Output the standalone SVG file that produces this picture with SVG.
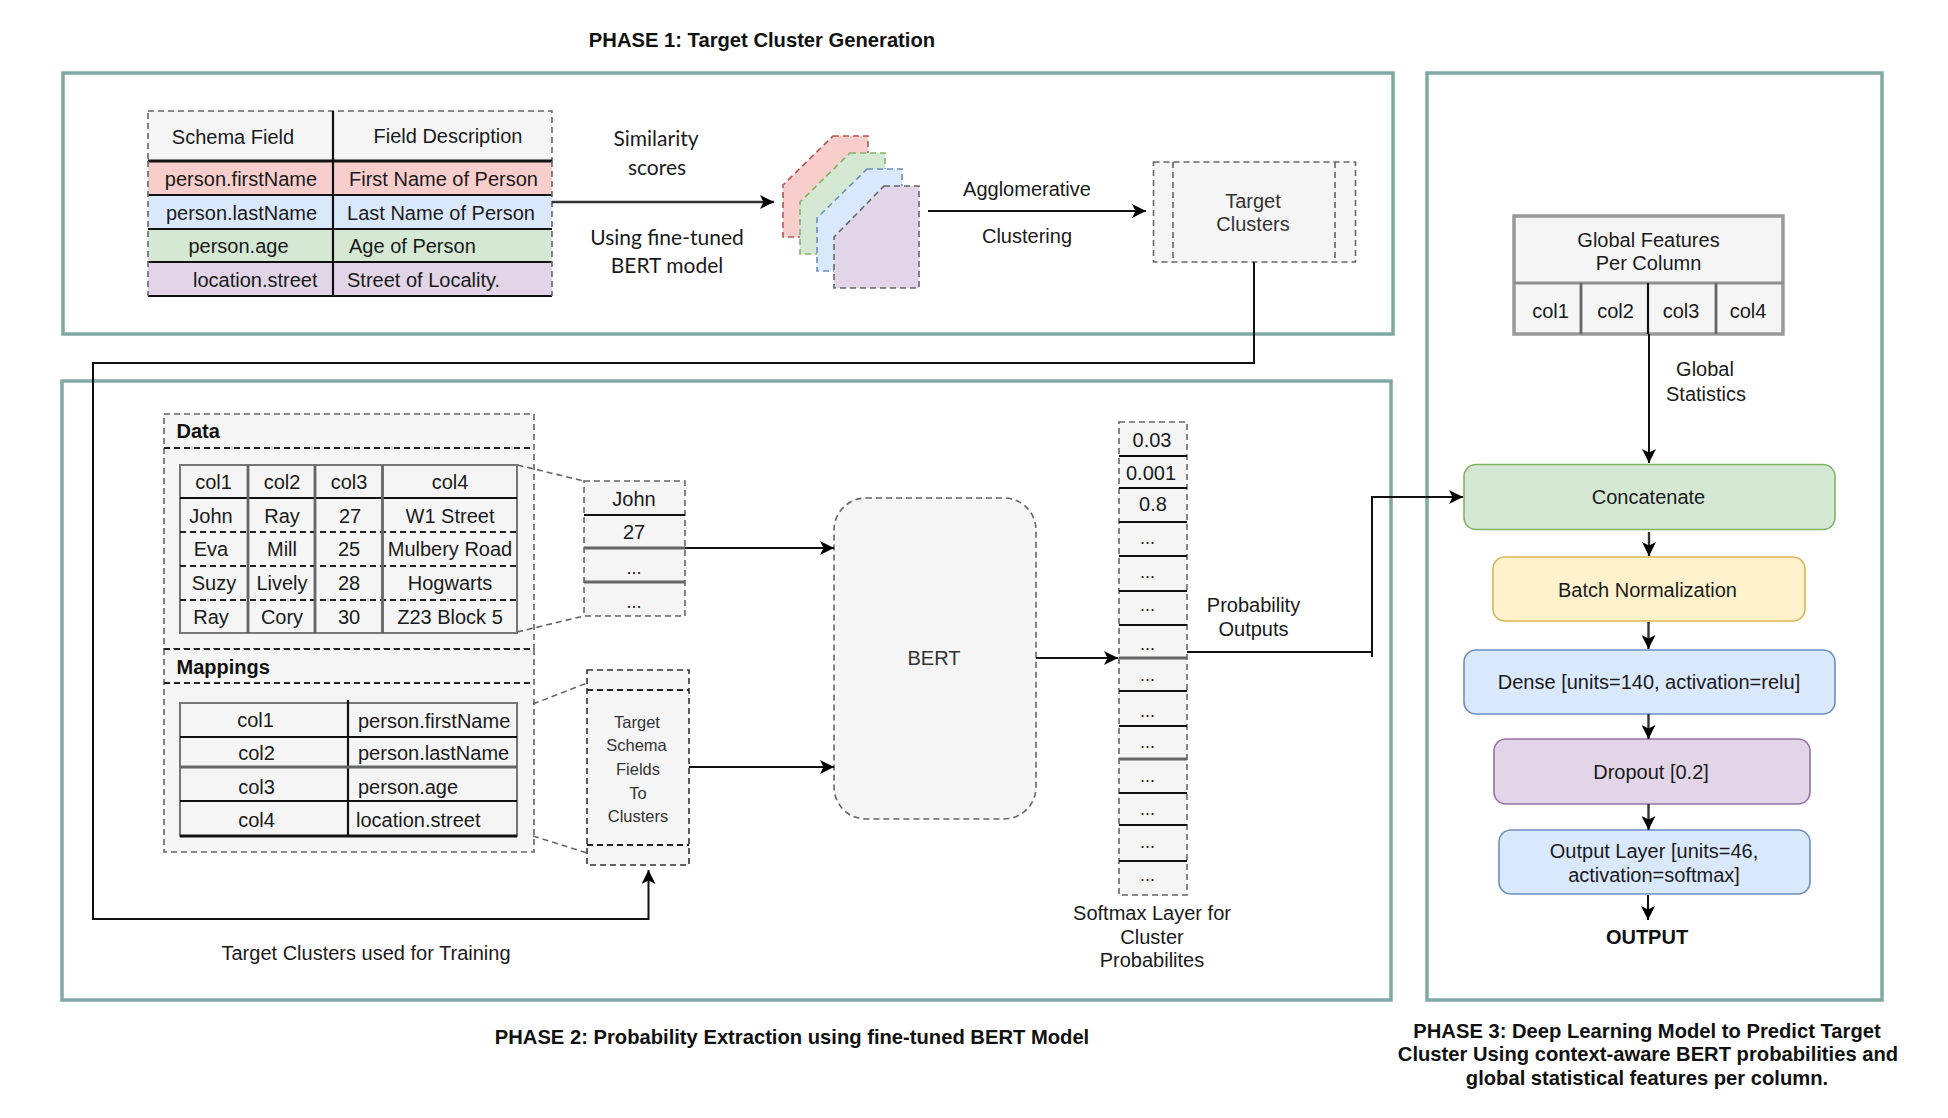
<svg xmlns="http://www.w3.org/2000/svg" width="1948" height="1118" viewBox="0 0 1948 1118">
<style>
text{font-family:"Liberation Sans",Arial,sans-serif;font-size:20px;fill:#1a1a1a;text-anchor:middle;dominant-baseline:central}
.s{text-anchor:start}
.b{font-weight:bold;fill:#111}
.t{font-size:20.2px}
.c{font-family:Lato,"Liberation Sans",sans-serif;font-size:21px}
.g{fill:#333}
.d{font-size:18px;dominant-baseline:auto}
.sm{font-size:16.5px;fill:#333}
.panel{fill:none;stroke:#7faaa3;stroke-width:3.5}
.dash{fill:#f5f5f5;stroke:#666;stroke-width:1.6;stroke-dasharray:6 4}
.ln{fill:none;stroke:#666;stroke-width:1.6;stroke-dasharray:6 4}
.k{fill:none;stroke:#111;stroke-width:2.2}
.kd{fill:none;stroke:#222;stroke-width:2.2;stroke-dasharray:6 4}
.gr{fill:none;stroke:#666;stroke-width:2.8}
.lg{fill:none;stroke:#8f8f8f;stroke-width:3}
.wire{fill:none;stroke:#111;stroke-width:2}
.wg{fill:none;stroke:#333;stroke-width:2.4}
.f5{fill:#f5f5f5}
</style>
<defs>
<marker id="ah" markerUnits="userSpaceOnUse" markerWidth="15" markerHeight="14" refX="14" refY="7" orient="auto"><path d="M0,0 L14,7 L0,14 L3.5,7 Z" fill="#000"/></marker>
</defs>

<g id="phase1-panel"><rect class="panel" x="63" y="73" width="1330" height="261"/></g>
<g id="phase2-panel"><rect class="panel" x="62" y="381" width="1329" height="619"/></g>
<g id="phase3-panel"><rect class="panel" x="1427" y="73" width="455" height="927"/></g>

<g id="phase1-title"><text class="b t" x="762" y="40">PHASE 1: Target Cluster Generation</text></g>
<g id="phase2-title"><text class="b t" x="792" y="1037">PHASE 2: Probability Extraction using fine-tuned BERT Model</text></g>
<g id="phase3-title">
<text class="b t" x="1647" y="1031">PHASE 3: Deep Learning Model to Predict Target</text>
<text class="b t" x="1648" y="1054">Cluster Using context-aware BERT probabilities and</text>
<text class="b t" x="1647" y="1078">global statistical features per column.</text>
</g>

<g id="schema-table">
<rect class="dash" x="148" y="111" width="404" height="50"/>
<rect x="148" y="161" width="404" height="34" fill="#f8cecc"/>
<rect x="148" y="195" width="404" height="34" fill="#dae8fc"/>
<rect x="148" y="229" width="404" height="33" fill="#d5e8d4"/>
<rect x="148" y="262" width="404" height="34" fill="#e1d5e7"/>
<path class="k" d="M333,111V296M148,161H552"/>
<path class="k" style="stroke-width:2.8" d="M148,161H552"/>
<path class="k" d="M148,195H552M148,229H552M148,262H552M148,296H552"/>
<path class="ln" d="M148,161V296M552,161V296"/>
<text x="233" y="136.500">Schema Field</text>
<text x="448" y="135.500">Field Description</text>
<text x="241" y="178.500">person.firstName</text>
<text x="443.500" y="178.500">First Name of Person</text>
<text x="241.500" y="212.500">person.lastName</text>
<text x="441" y="212.500">Last Name of Person</text>
<text x="238.500" y="246">person.age</text>
<text class="s" x="349" y="246">Age of Person</text>
<text class="s" x="193" y="280">location.street</text>
<text class="s" x="347" y="280">Street of Locality.</text>
</g>

<g id="similarity-labels">
<text class="c" x="656" y="137.500">Similarity</text>
<text class="c" x="657" y="166">scores</text>
<text class="c" x="667" y="236">Using fine-tuned</text>
<text class="c" x="667" y="264">BERT model</text>
</g>

<g id="similarity-stack">
<path class="ln" style="fill:#f8cecc;stroke:#b85450" d="M833,136H868V237H783V185Z"/>
<path class="ln" style="fill:#d5e8d4;stroke:#82b366" d="M850,153H885V254H800V202Z"/>
<path class="ln" style="fill:#dae8fc;stroke:#6c8ebf" d="M867,169H902V271H817V218Z"/>
<path class="ln" style="fill:#e1d5e7;stroke:#666" d="M884,186H919V288H834V237Z"/>
</g>

<g id="clustering-label">
<text x="1027" y="189">Agglomerative</text>
<text x="1027" y="236">Clustering</text>
</g>

<g id="target-clusters">
<rect class="dash" x="1153.500" y="162" width="202" height="100"/>
<path class="ln" d="M1173,162V262M1335,162V262"/>
<text class="g" x="1253" y="201">Target</text>
<text class="g" x="1253" y="224">Clusters</text>
</g>

<g id="data-panel">
<rect class="dash" x="164" y="414" width="370" height="235"/>
<path class="kd" d="M164,448H534"/>
<text class="b s" x="176.500" y="431">Data</text>
<rect class="f5" x="180" y="465" width="337" height="168" style="stroke:#777;stroke-width:2"/>
<path class="k" d="M180,498H517"/>
<path class="kd" d="M180,532H517M180,566H517M180,600H517"/>
<path class="gr" d="M248,465V633M315,465V633M382.500,465V633"/>
<text x="213.500" y="482">col1</text><text x="282" y="482">col2</text><text x="349" y="482">col3</text><text x="450" y="482">col4</text>
<text x="211" y="515.500">John</text><text x="282" y="515.500">Ray</text><text x="350" y="515.500">27</text><text x="450" y="515.500">W1 Street</text>
<text x="211" y="549">Eva</text><text x="282" y="549">Mill</text><text x="349" y="549">25</text><text x="450" y="549">Mulbery Road</text>
<text x="214" y="583">Suzy</text><text x="282" y="583">Lively</text><text x="349" y="583">28</text><text x="450" y="583">Hogwarts</text>
<text x="211" y="616.500">Ray</text><text x="282" y="616.500">Cory</text><text x="349" y="616.500">30</text><text x="450" y="616.500">Z23 Block 5</text>
</g>

<g id="mappings-panel">
<rect class="dash" x="164" y="649" width="370" height="203"/>
<path class="kd" d="M164,649H534M164,683H534"/>
<text class="b s" x="176.500" y="667">Mappings</text>
<rect class="f5" x="180" y="703" width="337" height="133" style="stroke:#777;stroke-width:2"/>
<path class="k" d="M348,700V836M180,737H517M180,801H517"/>
<path class="gr" d="M180,767H517"/>
<path class="k" style="stroke-width:3" d="M180,836H517"/>
<text x="255.500" y="720">col1</text><text class="s" x="358" y="720.500">person.firstName</text>
<text x="256.500" y="753">col2</text><text class="s" x="358" y="753">person.lastName</text>
<text x="256.500" y="787">col3</text><text class="s" x="358" y="786.500">person.age</text>
<text x="256.500" y="820">col4</text><text class="s" x="356" y="820">location.street</text>
</g>

<g id="sample-column">
<rect class="dash" x="584" y="481" width="101" height="135"/>
<path class="k" d="M584,515H685"/>
<path class="gr" d="M584,548H685M584,582H685"/>
<text x="634" y="499">John</text>
<text x="634" y="532">27</text>
<text class="d" x="634" y="574">...</text>
<text class="d" x="634" y="608">...</text>
</g>
<g id="zoom-guides">
<path class="ln" d="M517.500,465L584,481M517,632L584,616M533,704L587,683M533,836L587,853"/>
</g>

<g id="target-schema-fields">
<rect class="dash" x="587" y="670" width="102" height="195" style="stroke:#333"/>
<path class="kd" d="M587,690H689M587,845H689"/>
<text class="sm" x="637" y="722">Target</text>
<text class="sm" x="636.500" y="745">Schema</text>
<text class="sm" x="638" y="769">Fields</text>
<text class="sm" x="638" y="792.500">To</text>
<text class="sm" x="638" y="816">Clusters</text>
</g>

<g id="bert">
<rect class="dash" x="834" y="498" width="202" height="321" rx="32"/>
<text class="g" x="934" y="658">BERT</text>
</g>

<g id="softmax-layer">
<rect class="dash" x="1119" y="422" width="68" height="473"/>
<path class="k" d="M1119,456H1187M1119,488H1187M1119,522H1187M1119,556H1187M1119,591H1187M1119,625H1187M1119,691H1187M1119,726H1187M1119,793H1187M1119,825H1187M1119,861H1187"/>
<path class="gr" d="M1119,658H1187M1119,759H1187"/>
<text x="1152" y="440">0.03</text>
<text x="1151" y="473">0.001</text>
<text x="1153" y="504">0.8</text>
<text class="d" x="1147.500" y="544">...</text>
<text class="d" x="1147.500" y="578">...</text>
<text class="d" x="1147.500" y="611">...</text>
<text class="d" x="1147.500" y="650">...</text>
<text class="d" x="1147.500" y="681">...</text>
<text class="d" x="1147.500" y="717">...</text>
<text class="d" x="1147.500" y="748">...</text>
<text class="d" x="1147.500" y="782">...</text>
<text class="d" x="1147.500" y="815">...</text>
<text class="d" x="1147.500" y="848">...</text>
<text class="d" x="1147.500" y="881">...</text>
<text x="1152" y="913">Softmax Layer for</text>
<text x="1152" y="937">Cluster</text>
<text x="1152" y="960">Probabilites</text>
</g>

<g id="probability-label">
<text x="1253.500" y="605">Probability</text>
<text x="1253.500" y="628.500">Outputs</text>
</g>
<g id="training-label"><text x="366" y="953">Target Clusters used for Training</text></g>

<g id="global-features">
<rect class="f5" x="1514" y="216" width="269" height="118" style="stroke:#999;stroke-width:3.5"/>
<path class="lg" d="M1514,283H1783"/>
<path class="gr" d="M1581,283V334M1716,283V334"/>
<path class="k" d="M1648,283V334"/>
<text x="1648.500" y="239.500">Global Features</text>
<text x="1648.500" y="263">Per Column</text>
<text x="1550.500" y="310.500">col1</text><text x="1615.500" y="310.500">col2</text><text x="1681" y="310.500">col3</text><text x="1748" y="310.500">col4</text>
</g>
<g id="global-statistics-label">
<text x="1705" y="369">Global</text>
<text x="1706" y="394">Statistics</text>
</g>
<g id="concatenate"><rect x="1464" y="464.500" width="371" height="65" rx="12" fill="#d5e8d4" stroke="#82b366" stroke-width="1.6"/><text x="1648.500" y="497">Concatenate</text></g>
<g id="batch-normalization"><rect x="1493" y="557" width="312" height="64" rx="12" fill="#fff2cc" stroke="#d6b656" stroke-width="1.6"/><text x="1647.500" y="590">Batch Normalization</text></g>
<g id="dense"><rect x="1464" y="650" width="371" height="64" rx="12" fill="#dae8fc" stroke="#6c8ebf" stroke-width="1.6"/><text x="1649" y="682">Dense [units=140, activation=relu]</text></g>
<g id="dropout"><rect x="1494" y="739" width="316" height="65" rx="12" fill="#e1d5e7" stroke="#9673a6" stroke-width="1.6"/><text x="1651" y="771.500">Dropout [0.2]</text></g>
<g id="output-layer"><rect x="1499" y="830" width="311" height="64" rx="12" fill="#dae8fc" stroke="#6c8ebf" stroke-width="1.6"/><text x="1654" y="851">Output Layer [units=46,</text><text x="1654" y="875">activation=softmax]</text></g>
<g id="output"><text class="b" x="1647" y="936.500">OUTPUT</text></g>

<g id="connectors">
<path class="wg" marker-end="url(#ah)" d="M552,202H774"/>
<path class="wire" marker-end="url(#ah)" d="M928,211H1146"/>
<path class="wire" marker-end="url(#ah)" d="M1254,262V363H93V919H648.500V870"/>
<path class="wire" marker-end="url(#ah)" d="M685,548H834"/>
<path class="wire" marker-end="url(#ah)" d="M689,767H834"/>
<path class="wire" marker-end="url(#ah)" d="M1036,658H1118"/>
<path class="wire" d="M1372,657V652"/>
<path class="wire" marker-end="url(#ah)" d="M1187,652H1372V497H1463"/>
<path class="wire" marker-end="url(#ah)" d="M1649,334V463"/>
<path class="wg" marker-end="url(#ah)" d="M1649,532V556"/>
<path class="wg" marker-end="url(#ah)" d="M1648.500,622V649"/>
<path class="wg" marker-end="url(#ah)" d="M1648.500,714V739"/>
<path class="wg" marker-end="url(#ah)" d="M1648.500,804V830"/>
<path class="wire" marker-end="url(#ah)" d="M1648,895V920"/>
</g>
</svg>
